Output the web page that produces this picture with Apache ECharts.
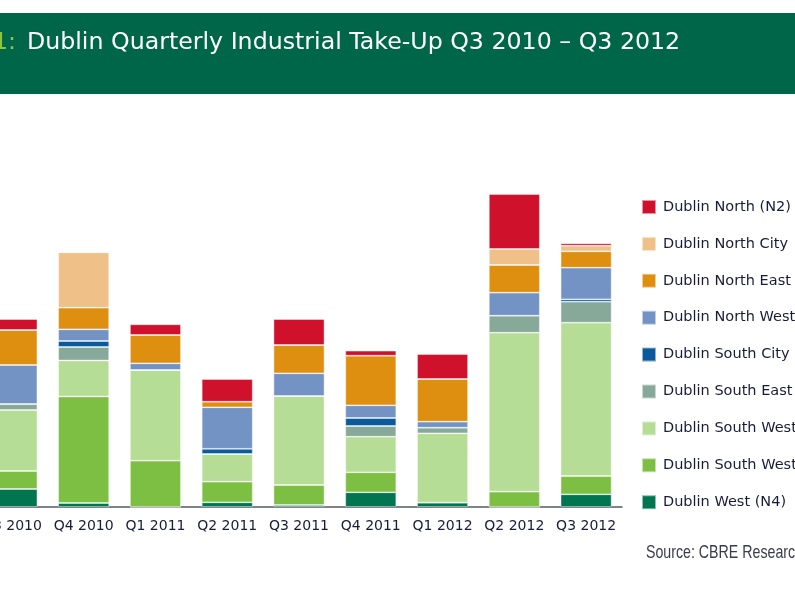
<!DOCTYPE html>
<html>
<head>
<meta charset="utf-8">
<script src="https://cdn.jsdelivr.net/npm/echarts@6/dist/echarts.min.js"></script>
<style>html,body{margin:0;padding:0;background:#fff;}#c{width:795px;height:596px;}</style>
</head>
<body>
<div id="c"></div>
<script>
var categories = ['Q3 2010','Q4 2010','Q1 2011','Q2 2011','Q3 2011','Q4 2011','Q1 2012','Q2 2012','Q3 2012'];
// stacked bottom to top
var dublinWestN4      = [18,   4,    0,    4.7,  2,    14.7, 4.3,  0,    12.7];
var dublinSouthWestB  = [18,   106.5,46.3, 20.6, 20,   20,   0,    15.3, 18.3];
var dublinSouthWestA  = [61,   36,   90.7, 27.7, 89,   35.6, 69.4, 159,  153.3];
var dublinSouthEast   = [6,    13.5, 0,    0,    0,    10.7, 5.6,  17,   21];
var dublinSouthCity   = [0,    6,    0,    5.2,  0,    8,    0,    0,    2.4];
var dublinNorthWest   = [39,   11.7, 6.7,  41.5, 22.7, 12.7, 6,    23,   31.6];
var dublinNorthEast   = [35,   21.6, 28.3, 5.6,  28.3, 49.6, 42.7, 27.7, 16.4];
var dublinNorthCity   = [0,    55.4, 0,    0,    0,    0,    0,    16,   5.6];
var dublinNorthN2     = [11,   0,    10.7, 22.7, 26,   5,    25,   55,   2.4];

var seriesNames = ['Dublin West (N4)','Dublin South West (N7)','Dublin South West (M50)','Dublin South East','Dublin South City','Dublin North West','Dublin North East','Dublin North City','Dublin North (N2)'];
var seriesData = [dublinWestN4, dublinSouthWestB, dublinSouthWestA, dublinSouthEast, dublinSouthCity, dublinNorthWest, dublinNorthEast, dublinNorthCity, dublinNorthN2];
var seriesColors = ['#00754f','#7cbf42','#b6dd95','#87a99a','#0b5a9c','#7393c4','#df8f10','#efc088','#d0112b'];

var titleMain = 'Dublin Quarterly Industrial Take-Up Q3 2010 \u2013 Q3 2012';
var titleNum = '1:';
var sourceText = 'Source: CBRE Research';

function measure(text, font) {
  var cv = document.createElement('canvas').getContext('2d');
  cv.font = font;
  return cv.measureText(text).width;
}
var titleFamily = '"DejaVu Sans"';
var titleSize = 100 * 653 / measure(titleMain, '500 100px ' + titleFamily);
var sourceFont = 'normal 19px "Liberation Sans"';
var sourceScale = 157 / measure(sourceText, sourceFont);

var chart = echarts.init(document.getElementById('c'), null, {renderer: 'canvas'});
var series = seriesNames.map(function (n, i) {
  return {
    name: n, type: 'bar', stack: 'total', barWidth: 51,
    data: seriesData[i],
    itemStyle: {color: seriesColors[i], borderColor: 'rgba(255,255,255,0.55)', borderWidth: 0.8},
    emphasis: {disabled: true}
  };
});
chart.setOption({
  animation: false,
  backgroundColor: '#ffffff',
  grid: {left: -24, width: 646, top: 107, bottom: 89, containLabel: false, outerBoundsMode: 'none'},
  xAxis: {
    type: 'category', data: categories,
    axisLine: {lineStyle: {color: '#555a60', width: 1.5}},
    axisTick: {show: false},
    axisLabel: {color: '#1a1b3a', fontFamily: 'DejaVu Sans', fontSize: 14, margin: 12, interval: 0}
  },
  yAxis: {type: 'value', min: 0, max: 400, show: false, splitLine: {show: false}},
  legend: {
    orient: 'vertical', left: 636, top: 194,
    itemWidth: 14, itemHeight: 14, itemGap: 20.9, icon: 'rect',
    data: seriesNames.slice().reverse(),
    textStyle: {color: '#1a1b3a', fontFamily: 'DejaVu Sans', fontSize: 14.5, lineHeight: 16, padding: [0, 0, 0, 2]}
  },
  graphic: [
    {type: 'rect', left: 0, top: 13, shape: {width: 795, height: 81}, style: {fill: '#00664a'}, z: 0},
    {type: 'text', x: 16, y: 43, style: {text: titleNum, fill: '#8cc63f', font: '500 ' + titleSize.toFixed(1) + 'px ' + titleFamily, textAlign: 'right', textVerticalAlign: 'middle'}, z: 1},
    {type: 'text', x: 27, y: 43, style: {text: titleMain, fill: '#ffffff', font: '500 ' + titleSize.toFixed(1) + 'px ' + titleFamily, textAlign: 'left', textVerticalAlign: 'middle'}, z: 1},
    {type: 'text', x: 646, y: 553, scaleX: sourceScale, style: {text: sourceText, fill: '#3a3b4c', font: sourceFont, textAlign: 'left', textVerticalAlign: 'middle'}, z: 1}
  ],
  series: series
});
</script>
</body>
</html>
